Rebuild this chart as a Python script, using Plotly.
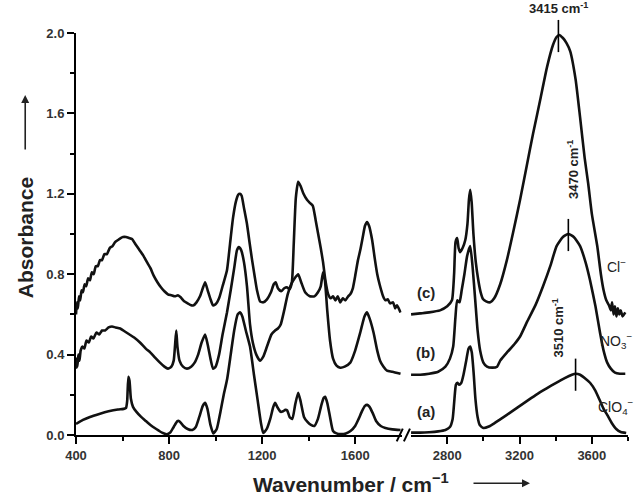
import plotly.graph_objects as go

# ---------------- data ----------------
# curve (a) ClO4-, low-wavenumber segment
wn_a_low = [400,430,460,500,540,580,605,615,620,625,630,636,645,660,680,700,720,745,770,790,805,820,835,842,850,862,880,900,915,930,945,955,965,978,990,1005,1020,1035,1050,1065,1080,1095,1105,1115,1130,1148,1165,1180,1195,1205,1220,1235,1248,1256,1265,1280,1290,1300,1308,1318,1330,1342,1355,1365,1380,1395,1410,1425,1440,1455,1465,1471,1480,1492,1505,1520,1540,1560,1580,1600,1615,1630,1642,1652,1662,1675,1690,1710,1730,1760,1795]
ab_a_low = [0.055,0.075,0.09,0.105,0.118,0.127,0.13,0.135,0.17,0.29,0.27,0.18,0.14,0.115,0.09,0.07,0.05,0.03,0.012,0.004,0.012,0.04,0.068,0.07,0.062,0.045,0.03,0.025,0.04,0.09,0.145,0.16,0.13,0.05,0.008,0.03,0.11,0.2,0.28,0.4,0.52,0.6,0.61,0.59,0.52,0.44,0.3,0.18,0.06,0.01,0.03,0.08,0.14,0.16,0.14,0.115,0.118,0.125,0.122,0.09,0.08,0.15,0.21,0.17,0.09,0.065,0.05,0.045,0.08,0.15,0.185,0.19,0.16,0.09,0.02,0.008,0.005,0.008,0.02,0.045,0.08,0.12,0.145,0.15,0.14,0.11,0.07,0.045,0.035,0.028,0.025]
# curve (a), high-wavenumber segment
wn_a_high = [2600,2650,2700,2750,2790,2815,2830,2840,2848,2856,2866,2878,2890,2905,2918,2927,2936,2946,2956,2968,2980,3000,3030,3060,3093,3130,3170,3210,3250,3300,3350,3400,3450,3490,3510,3535,3565,3590,3620,3645,3665,3685,3710,3735,3760,3790]
ab_a_high = [0.012,0.012,0.014,0.018,0.025,0.04,0.08,0.18,0.25,0.26,0.25,0.26,0.3,0.37,0.43,0.44,0.41,0.31,0.18,0.09,0.05,0.035,0.042,0.058,0.078,0.10,0.125,0.15,0.175,0.205,0.232,0.258,0.283,0.3,0.305,0.3,0.28,0.26,0.22,0.17,0.13,0.1,0.06,0.03,0.015,0.01]

# curve (b) NO3-
wn_b_low = [400,403,406,410,415,420,428,436,445,455,465,475,488,500,512,525,540,555,570,590,610,630,650,675,700,720,740,761,780,795,810,820,826,831,836,845,860,877,895,910,925,940,955,966,978,989,1000,1015,1030,1049,1065,1080,1092,1100,1110,1122,1135,1148,1160,1175,1191,1205,1221,1240,1256,1268,1280,1295,1310,1325,1340,1355,1368,1385,1405,1425,1440,1452,1462,1470,1480,1492,1505,1520,1536,1555,1579,1600,1622,1640,1651,1662,1679,1695,1707,1722,1737,1760,1795]
ab_b_low = [0.33,0.38,0.34,0.40,0.37,0.42,0.44,0.43,0.47,0.46,0.49,0.48,0.51,0.50,0.52,0.52,0.535,0.54,0.535,0.53,0.515,0.50,0.485,0.46,0.43,0.41,0.385,0.36,0.34,0.33,0.34,0.37,0.45,0.52,0.44,0.37,0.34,0.33,0.34,0.36,0.40,0.46,0.50,0.45,0.38,0.33,0.34,0.40,0.50,0.61,0.72,0.83,0.92,0.935,0.92,0.86,0.74,0.55,0.46,0.40,0.37,0.39,0.44,0.50,0.52,0.53,0.55,0.62,0.70,0.75,0.78,0.80,0.76,0.71,0.69,0.69,0.71,0.74,0.81,0.77,0.62,0.47,0.38,0.345,0.335,0.34,0.36,0.42,0.51,0.59,0.61,0.58,0.51,0.42,0.37,0.34,0.32,0.315,0.305]
wn_b_high = [2600,2650,2700,2750,2790,2815,2833,2845,2855,2868,2880,2895,2910,2927,2940,2955,2968,2982,3000,3020,3050,3076,3093,3130,3170,3203,3240,3290,3330,3370,3405,3440,3470,3500,3535,3565,3590,3620,3645,3665,3685,3705,3728,3755,3785]
ab_b_high = [0.30,0.30,0.305,0.315,0.34,0.38,0.44,0.58,0.67,0.66,0.72,0.80,0.89,0.94,0.84,0.67,0.52,0.42,0.36,0.34,0.335,0.34,0.37,0.41,0.45,0.49,0.56,0.65,0.74,0.84,0.94,0.985,1.0,0.985,0.94,0.86,0.77,0.64,0.51,0.42,0.36,0.33,0.31,0.305,0.305]

# curve (c) Cl-
wn_c_low = [400,404,408,413,418,424,430,437,444,452,460,468,476,485,494,503,512,522,533,545,557,568,580,592,602,615,628,641,655,670,688,705,720,735,750,765,780,795,810,825,838,850,865,880,895,905,918,933,945,955,966,977,989,1000,1015,1030,1049,1062,1075,1087,1097,1105,1112,1122,1135,1147,1157,1168,1178,1191,1205,1221,1238,1250,1258,1268,1282,1295,1307,1318,1328,1336,1345,1355,1365,1378,1393,1405,1418,1430,1441,1452,1462,1472,1484,1495,1505,1515,1525,1536,1547,1558,1570,1579,1590,1600,1612,1622,1632,1642,1651,1660,1673,1684,1695,1705,1712,1720,1730,1740,1750,1763,1772,1780,1795]
ab_c_low = [0.60,0.66,0.63,0.69,0.67,0.72,0.71,0.75,0.74,0.78,0.77,0.81,0.80,0.84,0.84,0.87,0.87,0.90,0.90,0.93,0.94,0.96,0.97,0.98,0.985,0.985,0.98,0.975,0.95,0.925,0.895,0.86,0.83,0.79,0.76,0.735,0.715,0.70,0.695,0.69,0.695,0.685,0.665,0.655,0.645,0.645,0.66,0.69,0.73,0.76,0.72,0.68,0.645,0.65,0.68,0.74,0.82,0.95,1.08,1.16,1.195,1.20,1.19,1.13,1.05,0.95,0.87,0.79,0.72,0.665,0.66,0.675,0.71,0.75,0.76,0.73,0.715,0.73,0.735,0.725,0.76,0.95,1.18,1.26,1.24,1.20,1.17,1.155,1.14,1.07,1.00,0.93,0.86,0.77,0.70,0.68,0.69,0.67,0.69,0.66,0.68,0.67,0.69,0.70,0.73,0.79,0.87,0.92,0.98,1.04,1.06,1.04,0.97,0.88,0.80,0.75,0.72,0.69,0.67,0.675,0.655,0.66,0.63,0.645,0.61]
wn_c_high = [2600,2650,2700,2760,2800,2826,2838,2846,2855,2863,2872,2885,2900,2912,2920,2927,2935,2945,2958,2972,2985,2999,3015,3038,3060,3093,3130,3165,3203,3240,3275,3315,3352,3385,3405,3419,3440,3460,3480,3510,3535,3560,3580,3600,3630,3650,3665,3680,3695,3705,3712,3720,3728,3736,3744,3752,3760,3770,3785]
ab_c_high = [0.60,0.605,0.61,0.62,0.64,0.67,0.80,0.96,0.98,0.93,0.91,0.93,0.97,1.05,1.17,1.22,1.16,1.00,0.86,0.77,0.71,0.675,0.665,0.66,0.68,0.75,0.87,1.01,1.17,1.34,1.50,1.67,1.83,1.94,1.98,1.99,1.975,1.95,1.91,1.77,1.58,1.38,1.25,1.10,0.94,0.80,0.72,0.67,0.645,0.62,0.66,0.60,0.64,0.59,0.63,0.60,0.62,0.59,0.61]

# tick labels / annotations
y_ticks = [0.0, 0.4, 0.8, 1.2, 1.6, 2.0]
x_ticks_low = [400, 800, 1200, 1600]
x_ticks_high = [2800, 3200, 3600]
peak_wn = [3415, 3470, 3510]
peak_abs = [1.99, 1.0, 0.305]
anion_labels = ["Cl<sup>−</sup>", "NO<sub>3</sub><sup>−</sup>", "ClO<sub>4</sub><sup>−</sup>"]
curve_labels = ["(c)", "(b)", "(a)"]

FONT = "Arial, Liberation Sans, sans-serif"
LINE = dict(color="#111111", width=2.6, shape="spline", smoothing=0.5)
Y_MAX = 2.0

fig = go.Figure()
for wl, al, wh, ah in [(wn_a_low, ab_a_low, wn_a_high, ab_a_high),
                       (wn_b_low, ab_b_low, wn_b_high, ab_b_high),
                       (wn_c_low, ab_c_low, wn_c_high, ab_c_high)]:
    fig.add_trace(go.Scatter(x=wl, y=al, mode="lines", line=LINE, xaxis="x", yaxis="y", showlegend=False))
    fig.add_trace(go.Scatter(x=wh, y=ah, mode="lines", line=LINE, xaxis="x2", yaxis="y", showlegend=False))

tickfont = dict(family=FONT, size=13, color="#333333", weight="bold")
axis_common = dict(showline=True, linecolor="black", linewidth=2, showgrid=False, zeroline=False,
                   ticks="outside", ticklen=7, tickwidth=2, tickcolor="black", tickfont=tickfont)

fig.update_layout(
    width=642, height=496,
    margin=dict(l=76, r=14, t=33, b=61),
    paper_bgcolor="white", plot_bgcolor="white",
    xaxis=dict(domain=[0, 0.59], range=[400, 1800], tickvals=x_ticks_low,
               minor=dict(tickvals=[600, 1000, 1400], ticks="outside", ticklen=4, tickwidth=2, tickcolor="black"),
               **axis_common),
    xaxis2=dict(domain=[0.607, 1], range=[2600, 3800], anchor="y", tickvals=x_ticks_high,
                minor=dict(tickvals=[3000, 3400, 3800], ticks="outside", ticklen=4, tickwidth=2, tickcolor="black"),
                **axis_common),
    yaxis=dict(range=[0, Y_MAX], tickvals=y_ticks, tickformat=".1f",
               minor=dict(tickvals=[0.2, 0.6, 1.0, 1.4, 1.8], ticks="outside", ticklen=4, tickwidth=2, tickcolor="black"),
               **axis_common),
)

# axis break marks "//"
for x0 in [0.581, 0.594]:
    fig.add_shape(type="line", xref="paper", yref="paper", x0=x0, x1=x0 + 0.011, y0=-0.016, y1=0.016,
                  line=dict(color="black", width=2))

ann = []
title_font = dict(family=FONT, size=21, color="#222", weight="bold")
# axis titles with arrows
ann.append(dict(text="Absorbance", xref="paper", yref="paper", x=-0.092, y=0.49, textangle=-90,
                xanchor="center", yanchor="middle", showarrow=False, font=title_font))
ann.append(dict(text="", xref="paper", yref="paper", x=-0.092, y=(435 - 95) / 402, ax=0, ay=56,
                showarrow=True, arrowhead=2, arrowsize=1, arrowwidth=1.6, arrowcolor="#222"))
ann.append(dict(text="Wavenumber / cm<sup>−1</sup>", xref="paper", yref="paper", x=0.498, y=-0.12,
                xanchor="center", yanchor="middle", showarrow=False, font=title_font))
ann.append(dict(text="", xref="paper", yref="paper", x=(530 - 76) / 552, y=-0.12, ax=-58, ay=0,
                showarrow=True, arrowhead=2, arrowsize=1, arrowwidth=1.6, arrowcolor="#222"))

# peak labels
pk_font = dict(family=FONT, size=13, color="#222", weight="bold")
ann.append(dict(text=f"{peak_wn[0]} cm<sup>-1</sup>", xref="x2", yref="paper", x=peak_wn[0], y=1.062,
                xanchor="center", yanchor="middle", showarrow=False, font=pk_font))
ann.append(dict(text=f"{peak_wn[1]} cm<sup>-1</sup>", xref="x2", yref="y", x=3492, y=1.32, textangle=-90,
                showarrow=False, font=pk_font))
ann.append(dict(text=f"{peak_wn[2]} cm<sup>-1</sup>", xref="x2", yref="y", x=3413, y=0.53, textangle=-90,
                showarrow=False, font=pk_font))
for w, a in zip(peak_wn, peak_abs):
    fig.add_shape(type="line", xref="x2", yref="paper", x0=w, x1=w,
                  y0=(a - 0.085) / Y_MAX, y1=(a + 0.075) / Y_MAX,
                  line=dict(color="black", width=1.6))

lab_font = dict(family=FONT, size=14, color="#222")
for txt, yv in zip(anion_labels, [0.84, 0.47, 0.14]):
    ann.append(dict(text=txt, xref="x2", yref="y", x=3735, y=yv, showarrow=False, font=lab_font))
cl_font = dict(family=FONT, size=15, color="#222", weight="bold")
for txt, yv in zip(curve_labels, [0.71, 0.41, 0.115]):
    ann.append(dict(text=txt, xref="x2", yref="y", x=2680, y=yv, showarrow=False, font=cl_font))

fig.update_layout(annotations=ann)
fig.write_html("out.html")
